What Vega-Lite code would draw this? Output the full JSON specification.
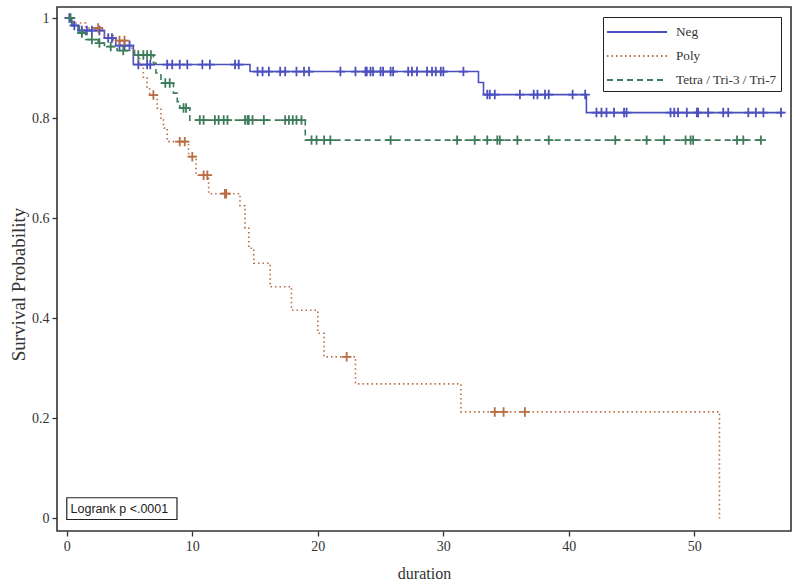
{
  "$schema": "https://vega.github.io/schema/vega-lite/v6.json",
  "width": 734,
  "height": 524,
  "autosize": {"type": "none"},
  "padding": {"left": 57, "top": 7, "right": 9, "bottom": 54},
  "background": "white",
  "config": {
    "view": {"stroke": "#333333", "strokeWidth": 1.6},
    "font": "Liberation Serif",
    "axis": {
      "grid": false,
      "domain": false,
      "tickColor": "#333333",
      "tickSize": 5,
      "tickWidth": 1.3,
      "labelFont": "Liberation Serif",
      "labelFontSize": 14,
      "labelColor": "#333333",
      "titleFont": "Liberation Serif",
      "titleFontSize": 16,
      "titleFontWeight": "normal",
      "titleColor": "#333333"
    }
  },
  "datasets": {
    "steps": [
      {"g": "Neg", "t": 0, "s": 1.0},
      {"g": "Neg", "t": 0.4, "s": 0.985},
      {"g": "Neg", "t": 0.9, "s": 0.975},
      {"g": "Neg", "t": 3.0, "s": 0.96},
      {"g": "Neg", "t": 3.9, "s": 0.945},
      {"g": "Neg", "t": 5.3, "s": 0.907},
      {"g": "Neg", "t": 14.6, "s": 0.893},
      {"g": "Neg", "t": 32.8, "s": 0.871},
      {"g": "Neg", "t": 33.2, "s": 0.847},
      {"g": "Neg", "t": 41.4, "s": 0.811},
      {"g": "Neg", "t": 57.1, "s": 0.811},
      {"g": "Poly", "t": 0, "s": 1.0},
      {"g": "Poly", "t": 0.5, "s": 0.99},
      {"g": "Poly", "t": 1.5, "s": 0.98},
      {"g": "Poly", "t": 3.0, "s": 0.965},
      {"g": "Poly", "t": 3.7, "s": 0.955},
      {"g": "Poly", "t": 5.0, "s": 0.94},
      {"g": "Poly", "t": 5.3, "s": 0.925},
      {"g": "Poly", "t": 5.8, "s": 0.905},
      {"g": "Poly", "t": 6.1, "s": 0.88},
      {"g": "Poly", "t": 6.4, "s": 0.862},
      {"g": "Poly", "t": 6.6, "s": 0.846},
      {"g": "Poly", "t": 7.2, "s": 0.82},
      {"g": "Poly", "t": 7.5, "s": 0.8},
      {"g": "Poly", "t": 7.7, "s": 0.78},
      {"g": "Poly", "t": 8.0, "s": 0.753},
      {"g": "Poly", "t": 9.7, "s": 0.723},
      {"g": "Poly", "t": 10.3, "s": 0.686},
      {"g": "Poly", "t": 11.3, "s": 0.649},
      {"g": "Poly", "t": 13.8, "s": 0.625},
      {"g": "Poly", "t": 14.2, "s": 0.58},
      {"g": "Poly", "t": 14.5, "s": 0.54},
      {"g": "Poly", "t": 14.9, "s": 0.51},
      {"g": "Poly", "t": 16.2, "s": 0.463},
      {"g": "Poly", "t": 17.9, "s": 0.416},
      {"g": "Poly", "t": 20.0, "s": 0.37},
      {"g": "Poly", "t": 20.5, "s": 0.323},
      {"g": "Poly", "t": 23.0, "s": 0.269},
      {"g": "Poly", "t": 31.4, "s": 0.213},
      {"g": "Poly", "t": 52.0, "s": 0.0},
      {"g": "Tetra / Tri-3 / Tri-7", "t": 0, "s": 1.0},
      {"g": "Tetra / Tri-3 / Tri-7", "t": 0.5, "s": 0.985},
      {"g": "Tetra / Tri-3 / Tri-7", "t": 1.0, "s": 0.97},
      {"g": "Tetra / Tri-3 / Tri-7", "t": 1.5, "s": 0.957},
      {"g": "Tetra / Tri-3 / Tri-7", "t": 2.5, "s": 0.95},
      {"g": "Tetra / Tri-3 / Tri-7", "t": 3.0, "s": 0.943},
      {"g": "Tetra / Tri-3 / Tri-7", "t": 4.0, "s": 0.935},
      {"g": "Tetra / Tri-3 / Tri-7", "t": 5.4, "s": 0.926},
      {"g": "Tetra / Tri-3 / Tri-7", "t": 6.9, "s": 0.91},
      {"g": "Tetra / Tri-3 / Tri-7", "t": 7.1, "s": 0.89},
      {"g": "Tetra / Tri-3 / Tri-7", "t": 7.5, "s": 0.87},
      {"g": "Tetra / Tri-3 / Tri-7", "t": 8.5, "s": 0.85},
      {"g": "Tetra / Tri-3 / Tri-7", "t": 8.8, "s": 0.833},
      {"g": "Tetra / Tri-3 / Tri-7", "t": 9.0, "s": 0.82},
      {"g": "Tetra / Tri-3 / Tri-7", "t": 9.8, "s": 0.796},
      {"g": "Tetra / Tri-3 / Tri-7", "t": 19.0, "s": 0.756},
      {"g": "Tetra / Tri-3 / Tri-7", "t": 55.7, "s": 0.756}
    ],
    "censors": [
      {"g": "Neg", "t": 0.2, "s": 1.0},
      {"g": "Neg", "t": 0.6, "s": 0.985},
      {"g": "Neg", "t": 1.2, "s": 0.975},
      {"g": "Neg", "t": 1.6, "s": 0.975},
      {"g": "Neg", "t": 2.0, "s": 0.975},
      {"g": "Neg", "t": 2.6, "s": 0.975},
      {"g": "Neg", "t": 3.3, "s": 0.96},
      {"g": "Neg", "t": 3.6, "s": 0.96},
      {"g": "Neg", "t": 4.2, "s": 0.945},
      {"g": "Neg", "t": 4.6, "s": 0.945},
      {"g": "Neg", "t": 5.0, "s": 0.945},
      {"g": "Neg", "t": 5.7, "s": 0.907},
      {"g": "Neg", "t": 6.4, "s": 0.907},
      {"g": "Neg", "t": 6.65, "s": 0.907},
      {"g": "Neg", "t": 8.0, "s": 0.907},
      {"g": "Neg", "t": 8.4, "s": 0.907},
      {"g": "Neg", "t": 9.0, "s": 0.907},
      {"g": "Neg", "t": 9.6, "s": 0.907},
      {"g": "Neg", "t": 10.8, "s": 0.907},
      {"g": "Neg", "t": 11.4, "s": 0.907},
      {"g": "Neg", "t": 13.4, "s": 0.907},
      {"g": "Neg", "t": 13.7, "s": 0.907},
      {"g": "Neg", "t": 15.2, "s": 0.893},
      {"g": "Neg", "t": 15.6, "s": 0.893},
      {"g": "Neg", "t": 16.1, "s": 0.893},
      {"g": "Neg", "t": 17.0, "s": 0.893},
      {"g": "Neg", "t": 17.4, "s": 0.893},
      {"g": "Neg", "t": 18.3, "s": 0.893},
      {"g": "Neg", "t": 18.9, "s": 0.893},
      {"g": "Neg", "t": 19.3, "s": 0.893},
      {"g": "Neg", "t": 21.8, "s": 0.893},
      {"g": "Neg", "t": 23.0, "s": 0.893},
      {"g": "Neg", "t": 23.8, "s": 0.893},
      {"g": "Neg", "t": 23.9, "s": 0.893},
      {"g": "Neg", "t": 24.2, "s": 0.893},
      {"g": "Neg", "t": 24.4, "s": 0.893},
      {"g": "Neg", "t": 25.0, "s": 0.893},
      {"g": "Neg", "t": 25.2, "s": 0.893},
      {"g": "Neg", "t": 25.8, "s": 0.893},
      {"g": "Neg", "t": 26.0, "s": 0.893},
      {"g": "Neg", "t": 27.2, "s": 0.893},
      {"g": "Neg", "t": 27.5, "s": 0.893},
      {"g": "Neg", "t": 27.9, "s": 0.893},
      {"g": "Neg", "t": 28.7, "s": 0.893},
      {"g": "Neg", "t": 29.1, "s": 0.893},
      {"g": "Neg", "t": 29.4, "s": 0.893},
      {"g": "Neg", "t": 29.8, "s": 0.893},
      {"g": "Neg", "t": 30.0, "s": 0.893},
      {"g": "Neg", "t": 31.6, "s": 0.893},
      {"g": "Neg", "t": 33.5, "s": 0.847},
      {"g": "Neg", "t": 33.7, "s": 0.847},
      {"g": "Neg", "t": 34.1, "s": 0.847},
      {"g": "Neg", "t": 36.1, "s": 0.847},
      {"g": "Neg", "t": 37.2, "s": 0.847},
      {"g": "Neg", "t": 37.5, "s": 0.847},
      {"g": "Neg", "t": 38.1, "s": 0.847},
      {"g": "Neg", "t": 38.4, "s": 0.847},
      {"g": "Neg", "t": 40.3, "s": 0.847},
      {"g": "Neg", "t": 41.3, "s": 0.847},
      {"g": "Neg", "t": 42.2, "s": 0.811},
      {"g": "Neg", "t": 42.6, "s": 0.811},
      {"g": "Neg", "t": 43.0, "s": 0.811},
      {"g": "Neg", "t": 43.6, "s": 0.811},
      {"g": "Neg", "t": 44.4, "s": 0.811},
      {"g": "Neg", "t": 44.6, "s": 0.811},
      {"g": "Neg", "t": 48.1, "s": 0.811},
      {"g": "Neg", "t": 48.4, "s": 0.811},
      {"g": "Neg", "t": 48.7, "s": 0.811},
      {"g": "Neg", "t": 49.4, "s": 0.811},
      {"g": "Neg", "t": 50.2, "s": 0.811},
      {"g": "Neg", "t": 50.3, "s": 0.811},
      {"g": "Neg", "t": 51.1, "s": 0.811},
      {"g": "Neg", "t": 52.3, "s": 0.811},
      {"g": "Neg", "t": 52.7, "s": 0.811},
      {"g": "Neg", "t": 54.3, "s": 0.811},
      {"g": "Neg", "t": 54.9, "s": 0.811},
      {"g": "Neg", "t": 55.5, "s": 0.811},
      {"g": "Neg", "t": 56.9, "s": 0.811},
      {"g": "Poly", "t": 2.5, "s": 0.98},
      {"g": "Poly", "t": 4.2, "s": 0.955},
      {"g": "Poly", "t": 4.6, "s": 0.955},
      {"g": "Poly", "t": 6.9, "s": 0.846},
      {"g": "Poly", "t": 9.0, "s": 0.753},
      {"g": "Poly", "t": 9.4, "s": 0.753},
      {"g": "Poly", "t": 10.0, "s": 0.723},
      {"g": "Poly", "t": 10.9, "s": 0.686},
      {"g": "Poly", "t": 11.2, "s": 0.686},
      {"g": "Poly", "t": 12.6, "s": 0.649},
      {"g": "Poly", "t": 12.7, "s": 0.649},
      {"g": "Poly", "t": 22.3, "s": 0.323},
      {"g": "Poly", "t": 34.1, "s": 0.213},
      {"g": "Poly", "t": 34.8, "s": 0.213},
      {"g": "Poly", "t": 36.5, "s": 0.213},
      {"g": "Tetra / Tri-3 / Tri-7", "t": 0.3, "s": 1.0},
      {"g": "Tetra / Tri-3 / Tri-7", "t": 1.2, "s": 0.97},
      {"g": "Tetra / Tri-3 / Tri-7", "t": 2.0, "s": 0.957},
      {"g": "Tetra / Tri-3 / Tri-7", "t": 2.6, "s": 0.95},
      {"g": "Tetra / Tri-3 / Tri-7", "t": 3.5, "s": 0.943},
      {"g": "Tetra / Tri-3 / Tri-7", "t": 4.5, "s": 0.935},
      {"g": "Tetra / Tri-3 / Tri-7", "t": 5.7, "s": 0.926},
      {"g": "Tetra / Tri-3 / Tri-7", "t": 6.1, "s": 0.926},
      {"g": "Tetra / Tri-3 / Tri-7", "t": 6.4, "s": 0.926},
      {"g": "Tetra / Tri-3 / Tri-7", "t": 6.7, "s": 0.926},
      {"g": "Tetra / Tri-3 / Tri-7", "t": 7.85, "s": 0.87},
      {"g": "Tetra / Tri-3 / Tri-7", "t": 8.2, "s": 0.87},
      {"g": "Tetra / Tri-3 / Tri-7", "t": 9.3, "s": 0.82},
      {"g": "Tetra / Tri-3 / Tri-7", "t": 9.5, "s": 0.82},
      {"g": "Tetra / Tri-3 / Tri-7", "t": 10.6, "s": 0.796},
      {"g": "Tetra / Tri-3 / Tri-7", "t": 10.9, "s": 0.796},
      {"g": "Tetra / Tri-3 / Tri-7", "t": 11.8, "s": 0.796},
      {"g": "Tetra / Tri-3 / Tri-7", "t": 12.1, "s": 0.796},
      {"g": "Tetra / Tri-3 / Tri-7", "t": 12.5, "s": 0.796},
      {"g": "Tetra / Tri-3 / Tri-7", "t": 12.8, "s": 0.796},
      {"g": "Tetra / Tri-3 / Tri-7", "t": 14.2, "s": 0.796},
      {"g": "Tetra / Tri-3 / Tri-7", "t": 14.4, "s": 0.796},
      {"g": "Tetra / Tri-3 / Tri-7", "t": 14.5, "s": 0.796},
      {"g": "Tetra / Tri-3 / Tri-7", "t": 14.8, "s": 0.796},
      {"g": "Tetra / Tri-3 / Tri-7", "t": 15.7, "s": 0.796},
      {"g": "Tetra / Tri-3 / Tri-7", "t": 17.4, "s": 0.796},
      {"g": "Tetra / Tri-3 / Tri-7", "t": 17.7, "s": 0.796},
      {"g": "Tetra / Tri-3 / Tri-7", "t": 18.0, "s": 0.796},
      {"g": "Tetra / Tri-3 / Tri-7", "t": 18.3, "s": 0.796},
      {"g": "Tetra / Tri-3 / Tri-7", "t": 18.7, "s": 0.796},
      {"g": "Tetra / Tri-3 / Tri-7", "t": 19.5, "s": 0.756},
      {"g": "Tetra / Tri-3 / Tri-7", "t": 19.9, "s": 0.756},
      {"g": "Tetra / Tri-3 / Tri-7", "t": 20.5, "s": 0.756},
      {"g": "Tetra / Tri-3 / Tri-7", "t": 21.0, "s": 0.756},
      {"g": "Tetra / Tri-3 / Tri-7", "t": 25.8, "s": 0.756},
      {"g": "Tetra / Tri-3 / Tri-7", "t": 31.1, "s": 0.756},
      {"g": "Tetra / Tri-3 / Tri-7", "t": 32.5, "s": 0.756},
      {"g": "Tetra / Tri-3 / Tri-7", "t": 33.5, "s": 0.756},
      {"g": "Tetra / Tri-3 / Tri-7", "t": 34.3, "s": 0.756},
      {"g": "Tetra / Tri-3 / Tri-7", "t": 34.5, "s": 0.756},
      {"g": "Tetra / Tri-3 / Tri-7", "t": 35.9, "s": 0.756},
      {"g": "Tetra / Tri-3 / Tri-7", "t": 38.4, "s": 0.756},
      {"g": "Tetra / Tri-3 / Tri-7", "t": 43.7, "s": 0.756},
      {"g": "Tetra / Tri-3 / Tri-7", "t": 46.2, "s": 0.756},
      {"g": "Tetra / Tri-3 / Tri-7", "t": 47.6, "s": 0.756},
      {"g": "Tetra / Tri-3 / Tri-7", "t": 49.3, "s": 0.756},
      {"g": "Tetra / Tri-3 / Tri-7", "t": 49.7, "s": 0.756},
      {"g": "Tetra / Tri-3 / Tri-7", "t": 49.9, "s": 0.756},
      {"g": "Tetra / Tri-3 / Tri-7", "t": 53.4, "s": 0.756},
      {"g": "Tetra / Tri-3 / Tri-7", "t": 53.9, "s": 0.756},
      {"g": "Tetra / Tri-3 / Tri-7", "t": 55.3, "s": 0.756}
    ],
    "note": [
      {"x0": 0, "x1": 8.78, "y0": -0.002, "y1": 0.0414, "tx": 0.3, "ty": 0.0197, "label": "Logrank p <.0001"}
    ]
  },
  "layer": [
    {
      "data": {"name": "steps"},
      "mark": {"type": "line", "interpolate": "step-after", "strokeWidth": 1.6},
      "encoding": {
        "x": {
          "field": "t", "type": "quantitative",
          "scale": {"domain": [-0.78, 57.7], "nice": false, "zero": false},
          "axis": {"values": [0, 10, 20, 30, 40, 50], "title": "duration", "labelPadding": 3, "titleY": 42, "titleBaseline": "middle"}
        },
        "y": {
          "field": "s", "type": "quantitative",
          "scale": {"domain": [-0.025, 1.022], "nice": false, "zero": false},
          "axis": {"values": [0, 0.2, 0.4, 0.6, 0.8, 1], "format": "~g", "title": "Survival Probability", "titleFontSize": 19, "labelPadding": 3, "titleX": -39, "titleY": 277, "titleBaseline": "middle", "titleAlign": "center", "titleAngle": -90}
        },
        "color": {
          "field": "g", "type": "nominal",
          "scale": {"domain": ["Neg", "Poly", "Tetra / Tri-3 / Tri-7"], "range": ["#4b4fbf", "#b86d42", "#3e7b5b"]},
          "legend": {"orient": "none", "legendX": 546, "legendY": 10, "title": null, "strokeColor": "#222222", "fillColor": "white", "padding": 4, "symbolType": "M-3,0H3", "symbolSize": 400, "symbolOffset": 19, "symbolStrokeWidth": 2, "labelFont": "Liberation Serif", "labelFontSize": 13.2, "labelColor": "#333333", "labelOffset": 28, "rowPadding": 6}
        },
        "strokeDash": {
          "field": "g", "type": "nominal",
          "scale": {"domain": ["Neg", "Poly", "Tetra / Tri-3 / Tri-7"], "range": [[1, 0], [1.5, 3], [6, 4]]},
          "legend": {"orient": "none", "legendX": 546, "legendY": 10, "title": null, "strokeColor": "#222222", "fillColor": "white", "padding": 4, "symbolType": "M-3,0H3", "symbolSize": 400, "symbolOffset": 19, "symbolStrokeWidth": 2, "labelFont": "Liberation Serif", "labelFontSize": 13.2, "labelColor": "#333333", "labelOffset": 28, "rowPadding": 6}
        }
      }
    },
    {
      "data": {"name": "censors"},
      "mark": {"type": "point", "shape": "M-1,0H1M0,-1V1", "filled": false, "size": 90, "strokeWidth": 1.8, "opacity": 1},
      "encoding": {
        "x": {"field": "t", "type": "quantitative"},
        "y": {"field": "s", "type": "quantitative"},
        "color": {"field": "g", "type": "nominal", "legend": null}
      }
    },
    {
      "data": {"name": "note"},
      "mark": {"type": "rect", "fill": "white", "stroke": "#222222", "strokeWidth": 1.2},
      "encoding": {
        "x": {"field": "x0", "type": "quantitative"},
        "x2": {"field": "x1"},
        "y": {"field": "y0", "type": "quantitative"},
        "y2": {"field": "y1"}
      }
    },
    {
      "data": {"name": "note"},
      "mark": {"type": "text", "align": "left", "baseline": "middle", "font": "Liberation Sans", "fontSize": 12.5, "color": "#222222"},
      "encoding": {
        "x": {"field": "tx", "type": "quantitative"},
        "y": {"field": "ty", "type": "quantitative"},
        "text": {"field": "label"}
      }
    }
  ]
}
